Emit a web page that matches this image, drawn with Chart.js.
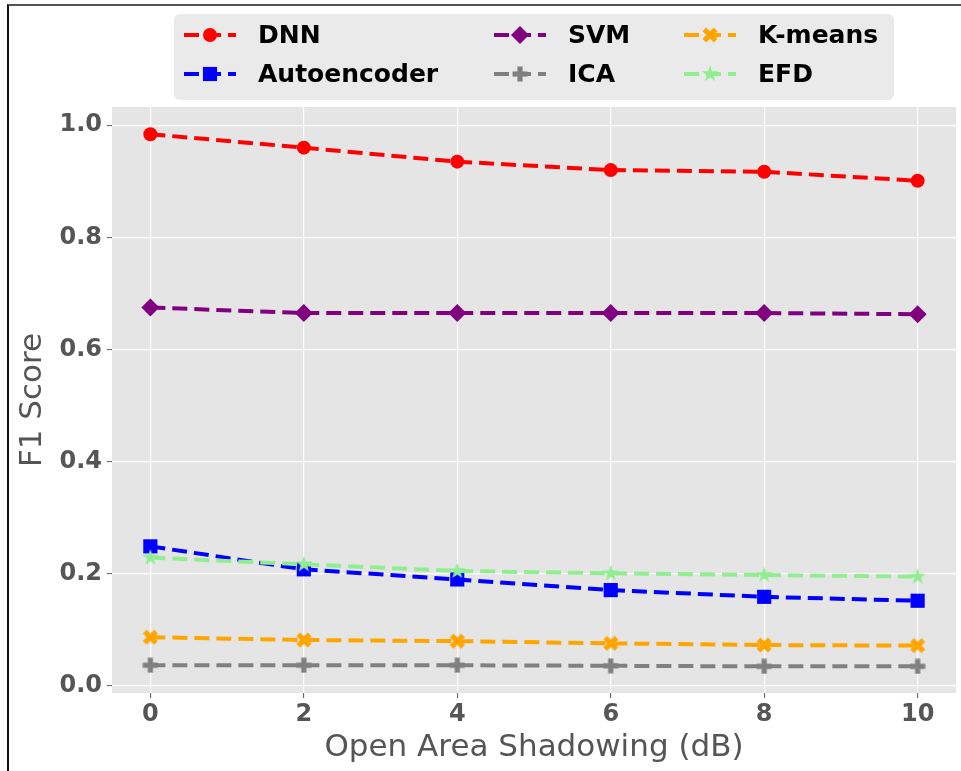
<!DOCTYPE html>
<html lang="en">
<head>
    <meta charset="UTF-8">
    <title>F1 Score vs Open Area Shadowing</title>
    <style>
        body { margin: 0; background: #fff; }
        .wrap { position: relative; width: 961px; height: 771px; overflow: hidden; }
        .frame { position: absolute; left: 7px; top: 4px; width: 1000px; height: 800px;
                 border-top: 2px solid #555; border-left: 2px solid #111; pointer-events: none; }
    </style>
    <script src="https://cdn.jsdelivr.net/npm/chart.js@4.4.0/dist/chart.umd.min.js"></script>
</head>
<body>
<div class="wrap">
    <canvas id="f1Chart" width="961" height="771"></canvas>
    <div class="frame"></div>
</div>
<script>
    // values
    var shadowing = [0, 2, 4, 6, 8, 10];
    var xTicks = [0, 2, 4, 6, 8, 10];
    var yTicks = [0.0, 0.2, 0.4, 0.6, 0.8, 1.0];

    var dnn         = [0.984, 0.960, 0.935, 0.920, 0.917, 0.901];
    var autoencoder = [0.249, 0.208, 0.190, 0.171, 0.159, 0.152];
    var svm         = [0.675, 0.665, 0.665, 0.665, 0.665, 0.663];
    var ica         = [0.037, 0.037, 0.037, 0.036, 0.035, 0.035];
    var kmeans      = [0.087, 0.082, 0.080, 0.076, 0.073, 0.072];
    var efd         = [0.229, 0.217, 0.205, 0.201, 0.198, 0.195];

    var names = ['DNN', 'Autoencoder', 'SVM', 'ICA', 'K-means', 'EFD'];
    var colors = ['#ff0000', '#0000ff', '#800080', '#808080', '#ffa500', '#90ee90'];
    var series = [dnn, autoencoder, svm, ica, kmeans, efd];

    // filled marker shapes like matplotlib's 'P', 'X' and '*'
    function makeMarker(kind, color) {
        var c = document.createElement('canvas');
        var s = kind === 'star' ? 18 : 16;
        c.width = s; c.height = s;
        var g = c.getContext('2d');
        g.fillStyle = color;
        g.translate(s / 2, s / 2);
        if (kind === 'star') {
            g.beginPath();
            for (var i = 0; i < 10; i++) {
                var r = i % 2 === 0 ? 8.5 : 3.4;
                var a = -Math.PI / 2 + i * Math.PI / 5;
                g.lineTo(r * Math.cos(a), r * Math.sin(a));
            }
            g.closePath();
            g.fill();
        } else {
            if (kind === 'x') g.rotate(Math.PI / 4);
            var arm = kind === 'x' ? 8 : 7.5, t = 2.6;
            g.fillRect(-arm, -t, arm * 2, t * 2);
            g.fillRect(-t, -arm, t * 2, arm * 2);
        }
        return c;
    }

    var pointStyles = ['circle', 'rect', 'rectRot', makeMarker('plus', colors[3]), makeMarker('x', colors[4]), makeMarker('star', colors[5])];
    var pointRadii = [7, 10, 9, 8, 8, 8];

    var datasets = names.map(function (name, i) {
        return {
            label: name,
            data: shadowing.map(function (x, j) { return { x: x, y: series[i][j] }; }),
            borderColor: colors[i],
            backgroundColor: colors[i],
            pointBackgroundColor: colors[i],
            borderWidth: 4,
            borderDash: [15, 7],
            pointStyle: pointStyles[i],
            pointRadius: pointRadii[i],
            pointBorderWidth: 0,
            tension: 0,
            order: names.length - i
        };
    });

    var plotBg = {
        id: 'plotBg',
        beforeDraw: function (chart) {
            var a = chart.chartArea, ctx = chart.ctx;
            ctx.save();
            ctx.fillStyle = '#e5e5e5';
            ctx.fillRect(a.left, a.top, a.right - a.left, a.bottom - a.top);
            ctx.restore();
        }
    };

    // legend in 3 columns, filled column by column like matplotlib
    var boxLegend = {
        id: 'boxLegend',
        afterDraw: function (chart) {
            var ctx = chart.ctx, a = chart.chartArea;
            var font = 'bold 25px "DejaVu Sans"';
            var handleLen = 52, textPad = 22;
            var cols = [[0, 1], [2, 3], [4, 5]];
            var colX = [10, 320, 510];
            var width = 720, height = 86, top = 14;
            var left = Math.round((a.left + a.right) / 2 - width / 2);
            ctx.save();
            ctx.fillStyle = '#eaeaea';
            ctx.beginPath();
            ctx.roundRect(left, top, width, height, 6);
            ctx.fill();
            cols.forEach(function (c, ci) {
                var x = left + colX[ci];
                c.forEach(function (k, ri) {
                    var y = top + 21 + ri * 39;
                    ctx.save();
                    ctx.strokeStyle = colors[k];
                    ctx.lineWidth = 4;
                    ctx.setLineDash([15, 7]);
                    ctx.beginPath();
                    ctx.moveTo(x, y);
                    ctx.lineTo(x + handleLen, y);
                    ctx.stroke();
                    ctx.setLineDash([]);
                    ctx.fillStyle = colors[k];
                    Chart.helpers.drawPoint(ctx, { pointStyle: pointStyles[k], radius: pointRadii[k], rotation: 0, borderWidth: 0 }, x + handleLen / 2, y);
                    ctx.restore();
                    ctx.fillStyle = '#000';
                    ctx.font = font;
                    ctx.textBaseline = 'middle';
                    ctx.textAlign = 'left';
                    ctx.fillText(names[k], x + handleLen + textPad, y + 1);
                });
            });
            ctx.restore();
        }
    };

    new Chart(document.getElementById('f1Chart'), {
        type: 'line',
        data: { datasets: datasets },
        options: {
            responsive: false,
            animation: false,
            layout: { autoPadding: false, padding: { top: 107, right: 5, left: 0, bottom: 0 } },
            plugins: { legend: { display: false }, tooltip: { enabled: false } },
            scales: {
                x: {
                    type: 'linear',
                    min: -0.5,
                    max: 10.5,
                    afterBuildTicks: function (s) { s.ticks = xTicks.map(function (v) { return { value: v }; }); },
                    afterFit: function (s) { s.height = 78; s.paddingLeft = 0; s.paddingRight = 0; },
                    grid: { color: '#ffffff', lineWidth: 1.2, tickColor: '#555', tickLength: 5, tickWidth: 1 },
                    border: { display: false },
                    ticks: {
                        color: '#555',
                        padding: 2,
                        font: { family: 'DejaVu Sans', size: 24, weight: 'bold' },
                        callback: function (v) { return String(v); }
                    },
                    title: {
                        display: true,
                        text: 'Open Area Shadowing (dB)',
                        color: '#555',
                        font: { family: 'DejaVu Sans', size: 31, weight: 'normal', lineHeight: 1.2 },
                        padding: { top: 0, bottom: 4 }
                    }
                },
                y: {
                    min: -0.0125,
                    max: 1.0325,
                    afterBuildTicks: function (s) { s.ticks = yTicks.map(function (v) { return { value: v }; }); },
                    afterFit: function (s) { s.width = 112; },
                    grid: { color: '#ffffff', lineWidth: 1.2, tickColor: '#555', tickLength: 5, tickWidth: 1 },
                    border: { display: false },
                    ticks: {
                        color: '#555',
                        padding: 5,
                        font: { family: 'DejaVu Sans', size: 24, weight: 'bold' },
                        callback: function (v) { return v.toFixed(1); }
                    },
                    title: {
                        display: true,
                        text: 'F1 Score',
                        color: '#555',
                        font: { family: 'DejaVu Sans', size: 31, weight: 'normal', lineHeight: 1.2 },
                        padding: { top: 14, bottom: 0 }
                    }
                }
            }
        },
        plugins: [plotBg, boxLegend]
    });
</script>
</body>
</html>
